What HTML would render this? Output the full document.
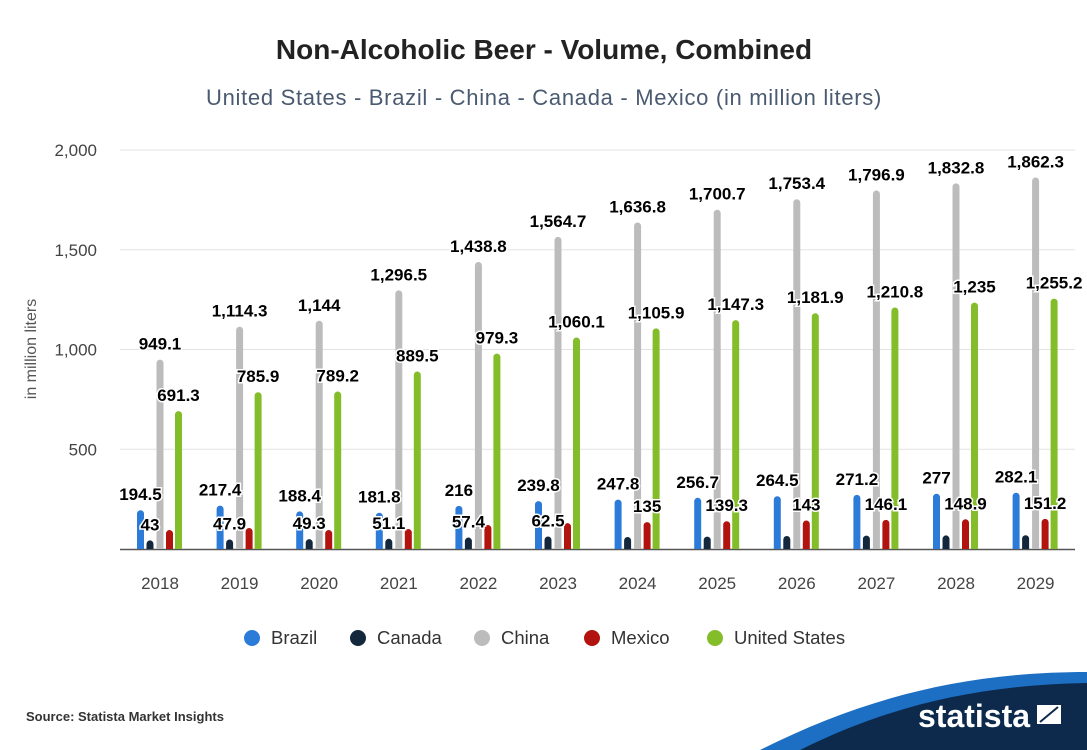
<!DOCTYPE html>
<html><head><meta charset="utf-8"><style>
body{margin:0;background:#fff;font-family:"Liberation Sans",sans-serif;}
#wrap{position:relative;width:1087px;height:750px;overflow:hidden;background:#fff}
</style></head><body>
<div id="wrap">
<svg id="chart" width="1087" height="750">
<text x="544" y="59" text-anchor="middle" font-size="28" font-weight="bold" fill="#222">Non-Alcoholic Beer - Volume, Combined</text>
<text x="544" y="105" text-anchor="middle" font-size="22" letter-spacing="0.7" fill="#4a5a70">United States - Brazil - China - Canada - Mexico (in million liters)</text>
<text transform="translate(36,349) rotate(-90)" text-anchor="middle" font-size="16" fill="#555">in million liters</text>
<g id="grid"></g><g id="bars"></g><g id="labels"></g>
<g id="legend"></g>
<path d="M760,750 C860,700 960,672 1087,672 L1087,750 Z" fill="#1d6fc4"/>
<path d="M800,750 C890,705 980,685 1087,683 L1087,750 Z" fill="#0d2a4d"/>
<text x="26" y="721" font-size="13" font-weight="bold" fill="#333">Source: Statista Market Insights</text>
<text x="918" y="727" font-size="32" font-weight="bold" fill="#fff">statista</text>
<path d="M1036,725 L1036,704 L1062,704 L1062,725 Z M1040,722 L1058,707" fill="#fff" stroke="#0d2a4d" stroke-width="2"/>
</svg>
</div>
<script>
const years=["2018","2019","2020","2021","2022","2023","2024","2025","2026","2027","2028","2029"];
const brazil=[194.5,217.4,188.4,181.8,216,239.8,247.8,256.7,264.5,271.2,277,282.1];
const canada=[43,47.9,49.3,51.1,57.4,62.5,60,62,65,67,68,69];
const china=[949.1,1114.3,1144,1296.5,1438.8,1564.7,1636.8,1700.7,1753.4,1796.9,1832.8,1862.3];
const mexico=[95,105,95,100,120,130,135,139.3,143,146.1,148.9,151.2];
const us=[691.3,785.9,789.2,889.5,979.3,1060.1,1105.9,1147.3,1181.9,1210.8,1235,1255.2];
const showCanada=[1,1,1,1,1,1,0,0,0,0,0,0];
const showMexico=[0,0,0,0,0,0,1,1,1,1,1,1];
const yTicks=[500,1000,1500,2000];
const NS="http://www.w3.org/2000/svg";
const y=v=>549-v*0.1995;
const xc=i=>160+i*79.6;
function mk(tag,at,parent){const e=document.createElementNS(NS,tag);for(const k in at)e.setAttribute(k,at[k]);document.getElementById(parent).appendChild(e);return e;}
yTicks.forEach(t=>{
 const l=mk('line',{x1:120,x2:1075,y1:y(t),y2:y(t),stroke:'#e3e3e3'},'grid');
 
 
 const tx=mk('text',{x:97,y:y(t)+6,'text-anchor':'end','font-size':17,fill:'#444'},'grid');
 tx.textContent=t.toLocaleString('en-US');
 
 
});
const base=mk('line',{x1:120,x2:1075,y1:549.5,y2:549.5,stroke:'#555','stroke-width':1.5},'grid');


const series=[[brazil,'#2c7bd8',-19.5,'brazil'],[canada,'#13283d',-10,'canada'],[china,'#bcbcbc',0,'china'],[mexico,'#b3130f',9.5,'mexico'],[us,'#84bd2a',18.5,'united-states']];
function fmt(v){return v.toLocaleString('en-US',{maximumFractionDigits:1});}
years.forEach((yr,i)=>{
 series.forEach(([d,c,off,nm])=>{
  const x=xc(i)+off-3.5, top=y(d[i]);
  const p=mk('path',{d:`M${x},549 L${x},${top+3.5} A3.5,3.5 0 0 1 ${x+7},${top+3.5} L${x+7},549 Z`,fill:c},'bars');
  
  
 });
 const labs=[[brazil,-19.5,1],[canada,-10,showCanada[i]],[china,0,1],[mexico,9.5,showMexico[i]],[us,18.5,1]];
 labs.forEach(([d,off,s])=>{
  if(!s)return;
  const t=mk('text',{x:xc(i)+off,y:y(d[i])-10,'text-anchor':'middle','font-size':17,'font-weight':'bold',fill:'#000',stroke:'#fff','stroke-width':3,'paint-order':'stroke'},'labels');
  t.textContent=fmt(d[i]);
  
  
 });
 const xt=mk('text',{x:xc(i),y:589,'text-anchor':'middle','font-size':17,fill:'#444'},'labels');
 xt.textContent=yr;
 
 
});
const leg=[['Brazil','#2c7bd8',252],['Canada','#13283d',358],['China','#bcbcbc',482],['Mexico','#b3130f',592],['United States','#84bd2a',715]];
leg.forEach(([n,c,x])=>{
 const ci=mk('circle',{cx:x,cy:638,r:8,fill:c},'legend');
 
 
 const t=mk('text',{x:x+19,y:644,'font-size':18.5,fill:'#333'},'legend');
 t.textContent=n;
 
 
});
</script>
</body></html>
